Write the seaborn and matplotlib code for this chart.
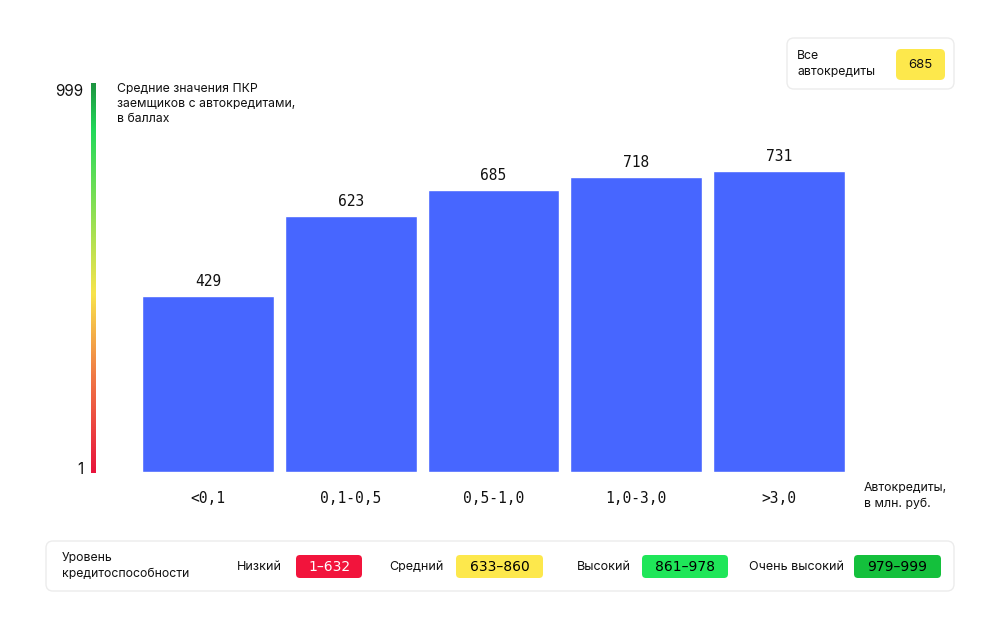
import pandas as pd
import matplotlib.pyplot as plt
import seaborn as sns
import numpy as np
from matplotlib.colors import LinearSegmentedColormap
from matplotlib.patches import FancyBboxPatch

# Data
loan_groups = ["<0,1", "0,1-0,5", "0,5-1,0", "1,0-3,0", ">3,0"]
avg_score = [429, 623, 685, 718, 731]
all_loans_score = 685

level_names = ["Низкий", "Средний", "Высокий", "Очень высокий"]
level_ranges = ["1–632", "633–860", "861–978", "979–999"]
level_colors = ["#f2143c", "#fde84c", "#1fe659", "#14c03c"]
level_text = ["white", "black", "black", "black"]

df = pd.DataFrame({"group": loan_groups, "score": avg_score})

sns.set_theme(style="white")
plt.rcParams["font.family"] = ["Inter", "DejaVu Sans"]

fig = plt.figure(figsize=(9.96, 6.34), dpi=100)
fig.patch.set_facecolor("white")

# Overlay in pixel coordinates for boxes and captions
ov = fig.add_axes([0, 0, 1, 1], zorder=0)
ov.set_xlim(0, 996)
ov.set_ylim(634, 0)
ov.axis("off")

# Main bar chart
ax = fig.add_axes([137 / 996, (634 - 472) / 634, (850 - 137) / 996, (472 - 83) / 634], zorder=2)
ax.patch.set_alpha(0)
sns.barplot(data=df, x="group", y="score", color="#4766ff", saturation=1, width=0.925, ax=ax)
ax.set_ylim(0, 946)
ax.set_xlim(-0.5, 4.5)
ax.set_xlabel("")
ax.set_ylabel("")
ax.set_yticks([])
sns.despine(ax=ax, left=True, bottom=True)
ax.tick_params(axis="x", length=0, pad=14)
for lab in ax.get_xticklabels():
    lab.set_family("DejaVu Sans Mono")
    lab.set_fontsize(10.5)
    lab.set_color("#111111")
ax.bar_label(ax.containers[0], labels=[str(v) for v in avg_score], padding=5,
             fontsize=10.5, family="DejaVu Sans Mono", color="#111111")

# Gradient scale line
gax = fig.add_axes([91 / 996, (634 - 473) / 634, 5 / 996, (473 - 83) / 634], zorder=2)
cmap = LinearSegmentedColormap.from_list(
    "score", [(0, "#e8143c"), (0.25, "#f07a45"), (0.46, "#f8e44c"),
              (0.7, "#7ddf55"), (0.88, "#22d95a"), (1, "#1d9440")])
gax.imshow(np.linspace(0, 1, 256).reshape(-1, 1), aspect="auto", cmap=cmap, origin="lower")
gax.axis("off")

ov.text(83, 92, "999", fontsize=11, ha="right", va="center", color="#111111")
ov.text(83, 470, "1", fontsize=11, ha="right", va="center", color="#111111")
ov.text(117, 83, "Средние значения ПКР\nзаемщиков с автокредитами,\nв баллах",
        fontsize=8.8, ha="left", va="top", linespacing=1.35, color="#111111")
ov.text(864, 496, "Автокредиты,\nв млн. руб.", fontsize=8.8, ha="left", va="center",
        linespacing=1.35, color="#111111")

# Top-right box
ov.add_patch(FancyBboxPatch((787, 38), 167, 51, boxstyle="round,pad=0,rounding_size=7",
                            facecolor="white", edgecolor="#ececec", lw=1))
ov.text(797, 64, "Все\nавтокредиты", fontsize=8.8, ha="left", va="center",
        linespacing=1.35, color="#111111")
ov.add_patch(FancyBboxPatch((896, 49), 49, 31, boxstyle="round,pad=0,rounding_size=5",
                            facecolor="#fde84c", edgecolor="none"))
ov.text(920.5, 65, str(all_loans_score), fontsize=9.5, ha="center", va="center", color="#111111")

# Bottom legend box
ov.add_patch(FancyBboxPatch((46, 541), 908, 50, boxstyle="round,pad=0,rounding_size=7",
                            facecolor="white", edgecolor="#ececec", lw=1))
ov.text(62, 566, "Уровень\nкредитоспособности", fontsize=8.8, ha="left", va="center",
        linespacing=1.35, color="#111111")

name_right = [282, 444, 631, 844]
badge_left = [296, 456, 642, 854]
badge_width = [66, 87, 86, 87]
for name, rng, col, tc, nr, bl, bw in zip(level_names, level_ranges, level_colors,
                                          level_text, name_right, badge_left, badge_width):
    ov.text(nr, 567, name, fontsize=9, ha="right", va="center", color="#111111")
    ov.add_patch(FancyBboxPatch((bl, 555), bw, 23, boxstyle="round,pad=0,rounding_size=4",
                                facecolor=col, edgecolor="none"))
    ov.text(bl + bw / 2, 567, rng, fontsize=10, ha="center", va="center", color=tc,
            family="DejaVu Sans")

plt.savefig("out.png", dpi=100)
